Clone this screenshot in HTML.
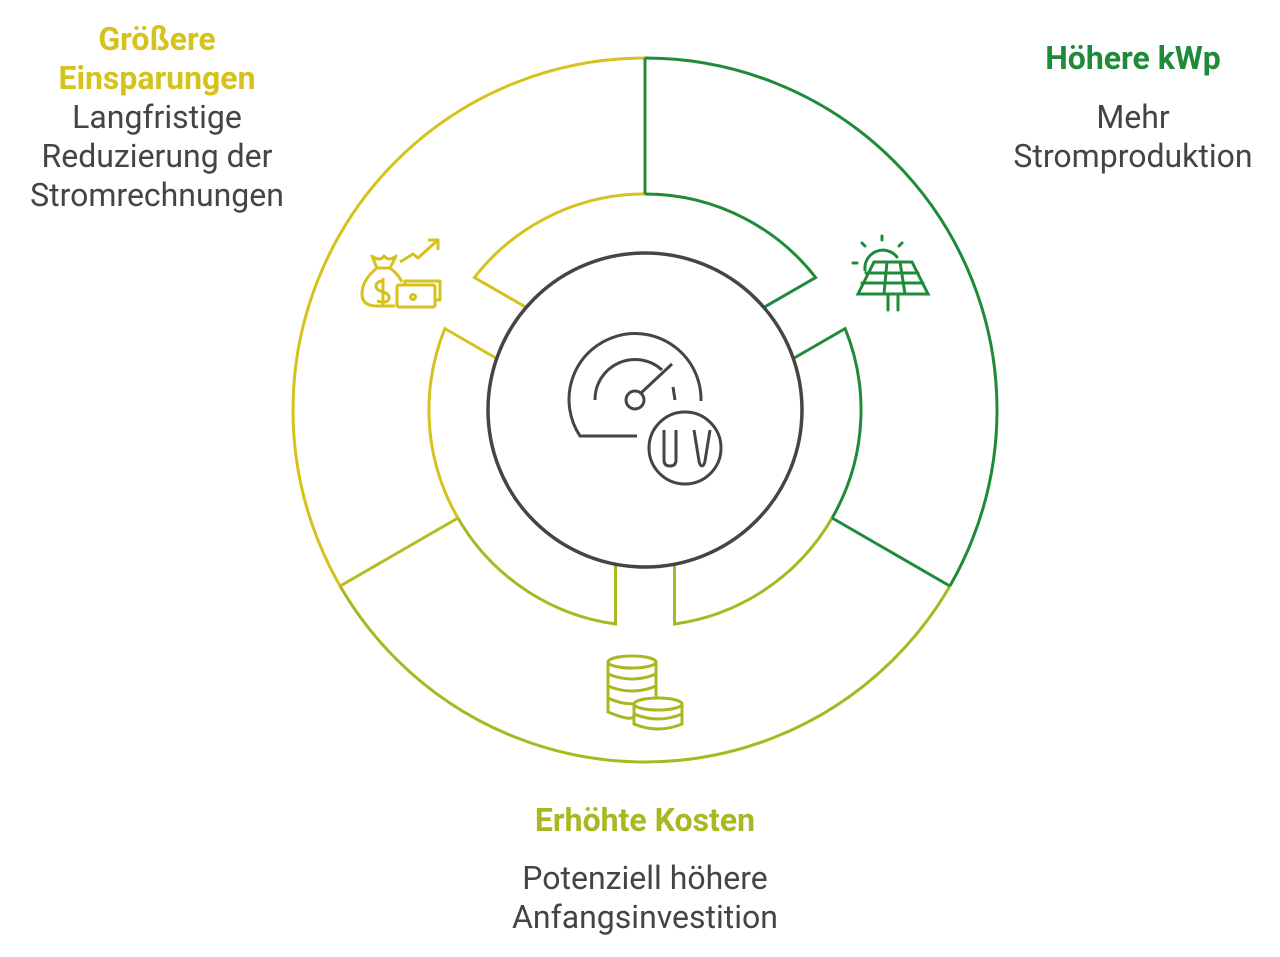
<!DOCTYPE html>
<html><head><meta charset="utf-8"><style>
html,body{margin:0;padding:0;background:#fff;}
body{width:1280px;height:957px;position:relative;overflow:hidden;font-family:"Roboto","Liberation Sans",sans-serif;}
.t{position:absolute;text-align:center;font-size:32px;line-height:39px;color:#444;white-space:nowrap;}
.b{font-weight:bold;}
</style></head><body>
<svg width="1280" height="957" style="position:absolute;left:0;top:0" fill="none" stroke-width="3">
<defs>
<clipPath id="cy"><polygon points="645,410 125,710 125,110 645,-190"/></clipPath>
<clipPath id="cg"><polygon points="645,410 645,-190 1165,110 1165,710"/></clipPath>
<clipPath id="co"><polygon points="645,410 1165,710 645,1010 125,710"/></clipPath>
<g id="rings">
<circle cx="645" cy="410" r="352"/>
<path d="M526.2,307.4 L474.4,277.5 A216,216 0 0 1 815.6,277.5 L763.8,307.4"/>
<path d="M793.3,358.5 L845.1,328.6 A216,216 0 0 1 674.5,624 L674.5,564.2"/>
<path d="M615.5,564.2 L615.5,624 A216,216 0 0 1 444.9,328.6 L496.7,358.5"/>
</g>
</defs>
<use href="#rings" stroke="#d6c21c" clip-path="url(#cy)"/>
<use href="#rings" stroke="#1f8a3a" clip-path="url(#cg)"/>
<use href="#rings" stroke="#a9b821" clip-path="url(#co)"/>
<line x1="645" y1="194" x2="645" y2="58" stroke="#1f8a3a"/>
<line x1="832.1" y1="518" x2="949.8" y2="586" stroke="#1f8a3a"/>
<line x1="457.9" y1="518" x2="340.2" y2="586" stroke="#b4bc1f"/>
<circle cx="645" cy="410" r="157" stroke="#454545" stroke-width="3.5"/>
<g stroke="#454545" stroke-width="3">
<path d="M701,401 A66,66 0 1 0 580,436 L637,436"/>
<path d="M595,400 A40,40 0 0 1 662,370"/>
<circle cx="635" cy="400" r="9"/>
<line x1="641" y1="393" x2="672" y2="364"/>
<line x1="673" y1="387" x2="675" y2="400"/>
<circle cx="685" cy="448" r="36"/>
<path d="M664,430 L664,460 Q664,466 670,466 Q676,466 676,460 L676,430"/>
<path d="M694,430 L699,461 Q700,466 702,466 Q704,466 705,461 L710,430"/>
</g>
<g stroke="#d6c21c" stroke-width="3" stroke-linejoin="round">
<path d="M372,256 Q380,262 384,256 Q389,262 396,256 L390,268 L377,268 Z"/>
<path d="M377,268 Q362,280 362,294 Q362,306 377,306 L395,306"/>
<path d="M390,268 Q398,274 402,282"/>
<path d="M384,282 Q377,280 376,286 Q376,290 383,292 Q390,294 389,299 Q387,304 377,301 M383,278 L383,305"/>
<rect x="397" y="285" width="38" height="22" rx="2"/>
<path d="M405,285 L405,281 L440,281 L440,300 L435,300"/>
<circle cx="413" cy="297" r="2.5"/>
<path d="M400,262 L413,254 L418,258 L438,240 M428,240 L438,240 L438,250"/>
</g>
<g stroke="#1f8a3a" stroke-width="3" stroke-linecap="round">
<line x1="882" y1="236" x2="882" y2="240"/><line x1="862" y1="243" x2="865" y2="246"/><line x1="902" y1="243" x2="899" y2="246"/><line x1="853" y1="263" x2="857" y2="263"/>
<path d="M865,270 A18,18 0 0 1 897,257"/>
<path d="M874,262 L912,262 L928,294 L858,294 Z"/>
<line x1="866" y1="273" x2="918" y2="273"/><line x1="862" y1="283" x2="923" y2="283"/>
<line x1="887" y1="262" x2="884" y2="294"/><line x1="900" y1="262" x2="905" y2="294"/>
<line x1="888" y1="294" x2="888" y2="310"/><line x1="898" y1="294" x2="898" y2="310"/>
</g>
<g stroke="#a9b821" stroke-width="3">
<ellipse cx="632" cy="662" rx="24" ry="6"/>
<path d="M608,662 L608,712 Q632,722 634,716 M656,662 L656,698 M608,674 Q632,684 656,674 M608,686 Q632,696 656,686 M608,698 Q620,704 634,704"/>
<ellipse cx="658" cy="704" rx="24" ry="6"/>
<path d="M634,704 L634,724 Q658,734 682,724 L682,704 M634,714 Q658,724 682,714"/>
</g>
</svg>
<div class="t b" style="left:-43px;width:400px;top:20px;color:#d6c21c">Größere<br>Einsparungen</div>
<div class="t" style="left:-43px;width:400px;top:98px">Langfristige<br>Reduzierung der<br>Stromrechnungen</div>
<div class="t b" style="left:933px;width:400px;top:39px;color:#1f8a3a">Höhere kWp</div>
<div class="t" style="left:933px;width:400px;top:98px">Mehr<br>Stromproduktion</div>
<div class="t b" style="left:445px;width:400px;top:801px;color:#a9b821">Erhöhte Kosten</div>
<div class="t" style="left:445px;width:400px;top:859px">Potenziell höhere<br>Anfangsinvestition</div>
</body></html>
